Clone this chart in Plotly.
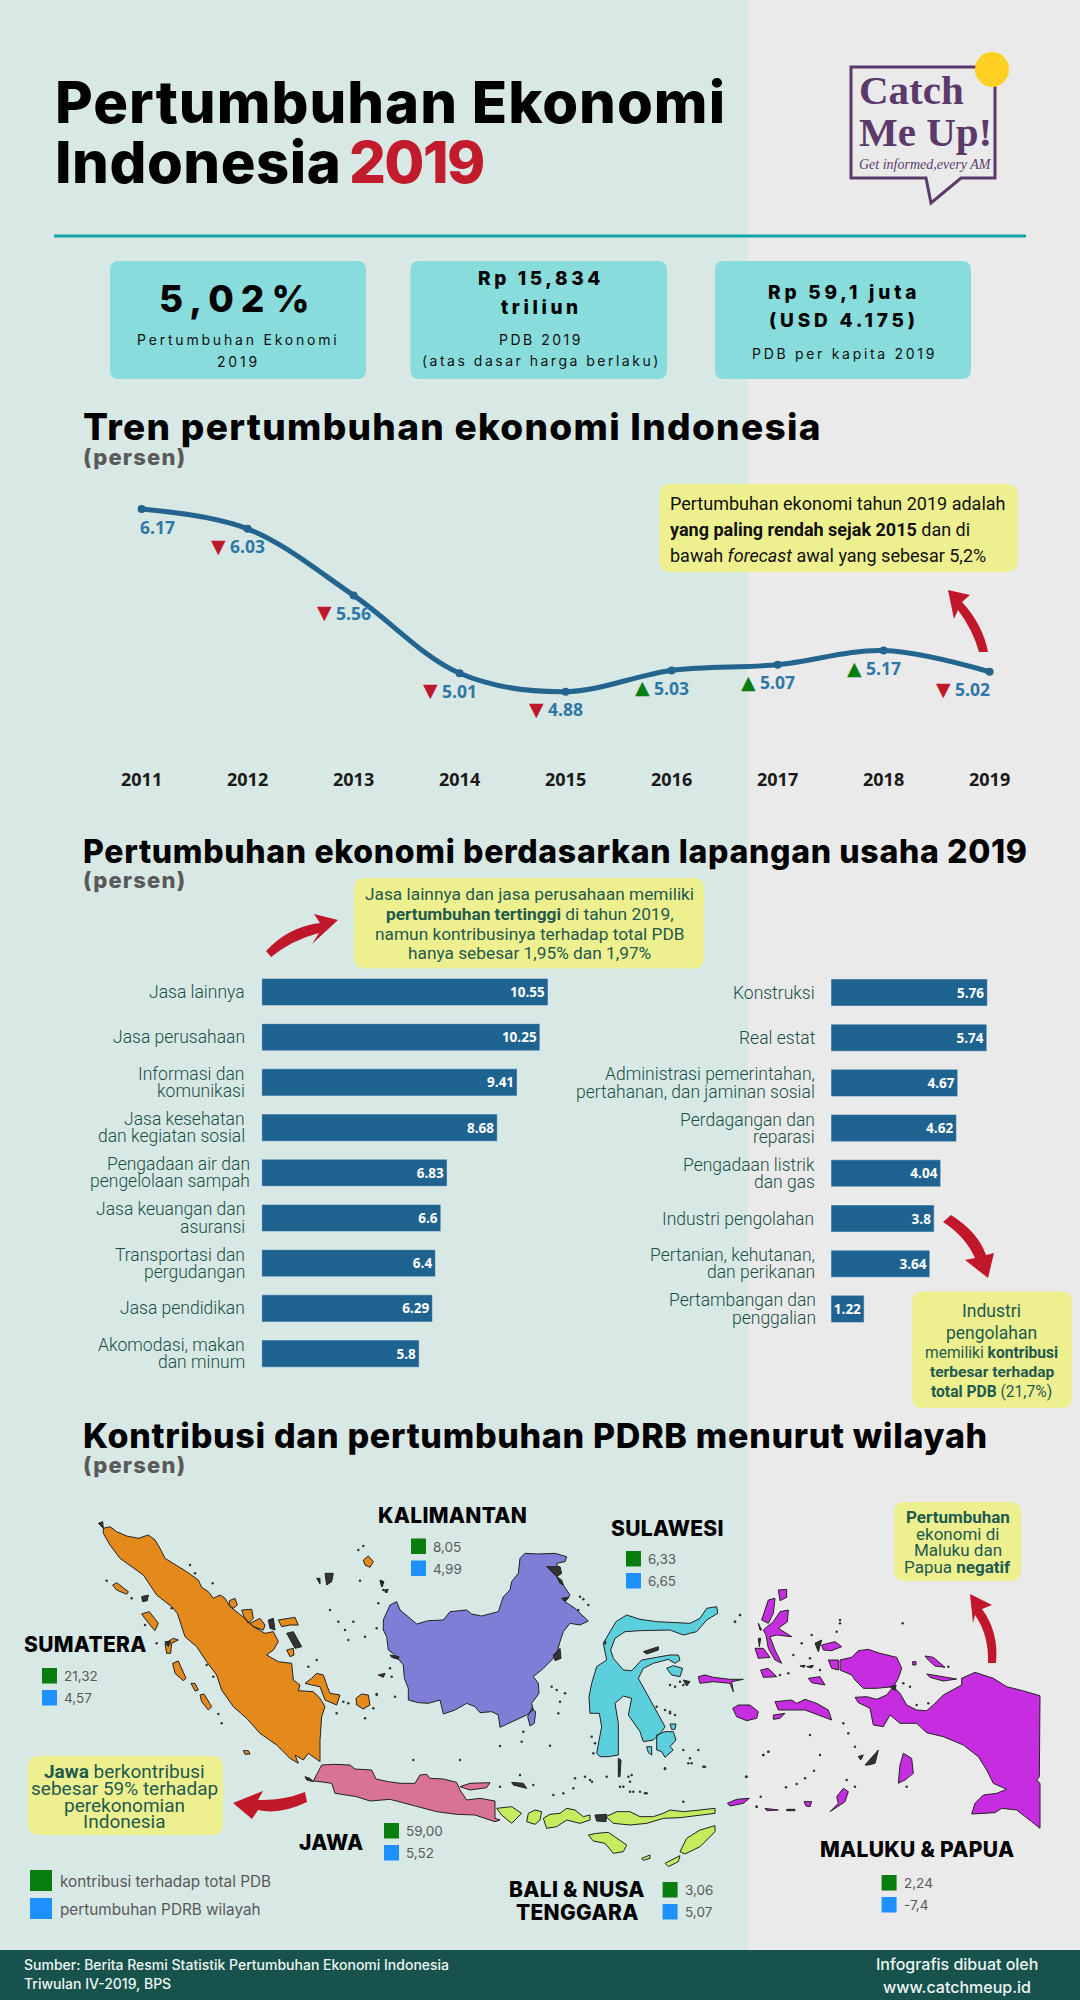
import plotly.graph_objects as go

# ---------- DATA ----------
years = [2011, 2012, 2013, 2014, 2015, 2016, 2017, 2018, 2019]
growth = [6.17, 6.03, 5.56, 5.01, 4.88, 5.03, 5.07, 5.17, 5.02]
growth_dir = [None, "down", "down", "down", "down", "up", "up", "up", "down"]

left_cats = ["Jasa lainnya", "Jasa perusahaan", "Informasi dan\nkomunikasi", "Jasa kesehatan\ndan kegiatan sosial",
             "Pengadaan air dan\npengelolaan sampah", "Jasa keuangan dan\nasuransi", "Transportasi dan\npergudangan",
             "Jasa pendidikan", "Akomodasi, makan\ndan minum"]
left_vals = [10.55, 10.25, 9.41, 8.68, 6.83, 6.6, 6.4, 6.29, 5.8]
right_cats = ["Konstruksi", "Real estat", "Administrasi pemerintahan,\npertahanan, dan jaminan sosial",
              "Perdagangan dan\nreparasi", "Pengadaan listrik\ndan gas", "Industri pengolahan",
              "Pertanian, kehutanan,\ndan perikanan", "Pertambangan dan\npenggalian"]
right_vals = [5.76, 5.74, 4.67, 4.62, 4.04, 3.8, 3.64, 1.22]

region_contrib = ["21,32", "8,05", "6,33", "59,00", "3,06", "2,24"]
region_growth = ["4,57", "4,99", "6,65", "5,52", "5,07", "-7,4"]

# Map outlines (each list in its own traced frame)
SUMATRA = [[(40,55),(60,50),(80,65),(110,78),(145,85),(175,75),(195,90),(210,115),(225,145),(250,160),(290,185),(325,210),(335,232),(355,245),(370,265),(390,255),(405,265),(420,290),(445,310),(465,325),(490,350),(525,370),(550,365),(565,395),(550,420),(530,435),(565,455),(605,460),(610,510),(630,525),(625,542),(670,545),(690,565),(705,590),(695,620),(690,690),(690,755),(675,745),(655,730),(640,750),(615,735),(625,760),(600,745),(560,705),(510,670),(470,625),(430,590),(395,540),(380,495),(350,455),(320,410),(285,380),(262,310),(245,290),(200,255),(160,195),(125,170),(90,145),(60,105),(40,70)],
 [(645,520),(665,505),(680,490),(700,495),(712,530),(720,550),(750,555),(740,585),(705,570),(690,530),(665,525)],
 [(798,565),(815,552),(835,555),(840,585),(820,597),(800,585)],
 [(820,150),(835,138),(850,155),(840,172),(825,165)],
 [(68,225),(80,218),(115,245),(110,253),(80,240)],
 [(155,312),(178,305),(205,340),(195,362),(180,345)],
 [(225,400),(250,385),(265,390),(245,400),(242,430),(230,430)],
 [(248,460),(265,453),(288,505),(280,512),(255,490)],
 [(303,520),(315,520),(325,540),(315,543)],
 [(330,555),(342,552),(365,590),(355,600),(335,575)],
 [(460,722),(475,722),(480,732),(465,733)],
 [(418,272),(435,265),(442,285),(430,295),(418,285)],
 [(455,300),(485,298),(490,325),(475,340),(462,320)],
 [(480,340),(510,325),(525,345),(520,360),(490,350)],
 [(565,330),(590,325),(615,322),(625,345),(600,345),(575,350)],
 [(590,420),(610,415),(612,435),(600,440)]]
SUMATRA_DARK = [[(535,330),(550,325),(555,360),(540,355)],[(590,370),(610,365),(635,410),(615,415)],[(155,260),(175,255),(172,272),(158,275)],[(225,395),(242,395),(235,410)],[(680,205),(690,205),(690,222)],[(705,190),(730,190),(725,215),(710,225)],[(870,210),(882,215),(875,230)],[(25,40),(38,35),(40,55)]]
SUMATRA_SPECKS = [(50,212),(125,265),(245,295),(300,165),(315,190),(368,220),(820,108),(805,120),(810,212),(790,335),(765,360),(775,390),(825,380),(655,470),(680,450),(200,400),(165,345),(350,465),(370,500),(385,612),(395,640),(760,575),(775,580),(860,555),(850,595),(825,625),(740,610),(880,240),(890,245),(865,280),(720,300),(745,335)]

KALIMANTAN = [[(25,240),(45,195),(65,185),(75,210),(105,235),(125,252),(160,242),(205,240),(225,215),(275,210),(290,222),(320,228),(370,215),(385,170),(405,150),(410,125),(430,100),(435,55),(450,40),(490,42),(540,40),(575,50),(570,65),(545,70),(550,90),(545,110),(565,135),(585,165),(570,185),(600,205),(640,243),(615,255),(585,250),(565,275),(555,305),(545,340),(530,360),(505,385),(475,410),(490,430),(492,460),(470,490),(475,510),(455,525),(375,562),(370,525),(350,515),(315,518),(300,500),(275,490),(240,510),(205,522),(195,480),(160,490),(130,488),(100,480),(100,445),(88,415),(85,375),(60,345),(40,330),(35,290),(25,270)],
 [(458,530),(470,505),(482,515),(478,550),(465,558)]]
KALIMANTAN_DARK = [[(515,80),(555,80),(560,100),(545,110)],[(545,110),(560,120),(565,135),(555,130)],[(560,175),(582,172),(570,185)],[(535,345),(555,325),(558,355),(540,362)],[(10,405),(30,400),(25,412)],[(15,125),(25,125),(22,140)],[(28,150),(40,148),(32,158)],[(45,345),(72,350),(70,358),(50,352)]]
KALIMANTAN_SPECKS = [(615,170),(625,178),(640,195),(610,210),(530,440),(545,450),(570,460),(555,485),(445,575),(440,605),(375,618),(525,617),(5,265),(45,385),(50,410),(5,462),(60,470),(690,305),(550,520)]

JAVA = [[(40,78),(65,30),(105,28),(150,30),(165,42),(215,45),(228,72),(265,80),(300,85),(345,85),(360,60),(380,58),(390,70),(430,72),(470,82),(480,105),(500,135),(540,130),(585,138),(585,190),(600,195),(585,200),(525,180),(470,178),(410,170),(330,150),(270,133),(210,138),(170,125),(105,115),(95,85),(60,80)],
 [(480,95),(510,85),(570,83),(560,98),(510,105)]]
NUSA_TENGGARA = [[(590,160),(635,155),(665,175),(645,195),(635,205),(605,180)],
 [(685,175),(705,165),(725,170),(720,195),(705,208),(680,200)],
 [(730,190),(750,178),(780,175),(800,160),(825,165),(850,185),(870,180),(870,195),(840,205),(800,195),(770,215),(740,220)],
 [(918,185),(950,170),(990,170),(1020,185),(1060,185),(1090,175),(1110,165),(1150,170),(1200,165),(1245,160),(1245,175),(1200,180),(1140,188),(1090,190),(1040,205),(990,210),(940,205)],
 [(865,240),(890,235),(925,232),(950,250),(980,270),(970,290),(940,295),(915,265),(880,258)],
 [(1140,290),(1160,250),(1200,225),(1245,212),(1245,230),(1200,275),(1155,297)],
 [(1095,325),(1140,302),(1135,320),(1105,335)],
 [(1025,310),(1050,300),(1050,310),(1030,316)]]
JAVA_DARK = [[(885,180),(920,178),(918,200),(890,198)],[(635,82),(670,85),(680,100),(640,90)],[(15,65),(30,70),(40,80),(20,75)]]
JAVA_SPECKS = [(340,15),(480,15),(600,95),(660,60),(700,90),(760,120),(790,115),(820,100),(825,70),(870,75),(855,65),(985,65),(960,95),(1000,110),(1035,115),(1095,42),(1165,25),(1215,35)]

SULAWESI = [[(50,180),(40,130),(60,95),(78,65),(110,45),(150,58),(200,65),(250,68),(300,70),(330,55),(350,25),(380,20),(383,40),(350,60),(320,95),(280,105),(240,90),(150,92),(105,95),(75,115),(62,150),(70,175),(100,210),(125,212),(155,180),(200,172),(240,165),(265,165),(270,180),(255,190),(235,178),(190,190),(160,205),(145,235),(170,280),(195,325),(225,380),(215,395),(190,420),(160,425),(150,395),(115,345),(125,295),(100,288),(75,310),(85,370),(85,465),(55,470),(30,470),(20,460),(35,380),(28,340),(0,340),(-3,290),(5,250),(20,200)],
 [(200,405),(225,395),(250,395),(258,420),(240,440),(250,450),(225,472),(215,455),(200,450)],
 [(230,205),(250,197),(278,205),(270,230),(245,225)],
 [(240,372),(258,372),(255,388),(245,388)],
 [(170,440),(185,440),(185,465),(175,458)]]
SULAWESI_DARK = [[(85,475),(93,480),(90,530),(85,530)],[(160,155),(205,140),(205,150),(170,162)],[(280,240),(300,245),(290,258)]]
SULAWESI_SPECKS = [(450,45),(435,65),(280,255),(270,245),(255,260),(240,255),(240,335),(255,345),(225,330),(280,450),(300,475),(305,490),(325,450),(340,500),(225,505),(125,525),(120,545),(100,560),(120,575),(150,575),(170,580),(280,605),(520,465),(535,455),(500,620),(470,530),(6,545),(50,530),(5,410),(15,430),(10,460),(45,130),(200,320),(240,340)]

MALUKU_W = [[(325,230),(345,225),(370,232),(420,238),(460,238),(425,245),(430,275),(420,250),(370,245),(330,250)],
 [(428,325),(445,315),(480,315),(505,335),(500,355),(470,362),(440,350)],
 [(412,610),(440,598),(478,595),(460,610),(420,618)]]
MALUKU_PAPUA = [[(330,240),(365,232),(385,212),(415,208),(450,220),(500,232),(515,265),(505,295),(490,320),(440,325),(400,325),(375,300),(365,285),(330,270)],
 [(490,320),(510,340),(530,375),(560,390),(590,392),(610,375),(640,345),(695,315),(695,295),(735,277),(790,295),(830,320),(870,330),(930,347),(928,590),(920,600),(930,610),(930,745),(905,725),(860,690),(815,685),(795,698),(725,702),(735,670),(760,645),(800,640),(830,628),(790,610),(770,570),(745,530),(700,495),(640,470),(590,458),(560,430),(510,430),(480,405),(460,440),(430,435),(420,385),(385,368),(375,352),(410,350),(440,358),(470,345)],
 [(590,282),(640,290),(680,297),(640,303),(600,292)],
 [(585,228),(610,232),(645,262),(615,258),(595,240)],
 [(275,195),(315,185),(335,200),(305,212),(280,210)],
 [(295,240),(325,240),(325,270),(305,265)],
 [(235,295),(270,290),(285,315),(245,308)],
 [(135,365),(185,360),(200,370),(225,358),(260,370),(295,390),(305,420),(265,405),(225,390),(190,390),(145,390)],
 [(130,405),(165,400),(150,415),(130,418)],
 [(92,270),(115,265),(140,290),(100,292)],
 [(145,30),(170,28),(170,52),(150,62)],
 [(95,120),(115,60),(135,55),(130,100),(115,130)],
 [(100,150),(130,125),(150,95),(175,90),(172,125),(145,145),(185,170),(140,165),(120,170),(135,210),(155,250),(135,240),(115,205),(108,165)],
 [(75,205),(100,205),(120,232),(85,235)],
 [(320,650),(340,625),(355,635),(345,665),(300,695),(325,670)],
 [(510,555),(520,520),(545,535),(550,580),(525,600),(505,610)],
 [(222,665),(245,665),(240,680),(228,678)],
 [(105,685),(145,690),(110,692)],
 [(548,245),(558,245),(558,255),(548,255)]]
MALUKU_DARK = [[(405,555),(445,510),(435,550),(415,555)],[(255,190),(275,180),(265,215)],[(480,320),(498,315),(495,332)],[(385,530),(400,525),(392,540)],[(170,688),(195,688),(195,692),(170,692)],[(210,258),(225,256),(222,262)],[(230,260),(250,256),(245,264)],[(85,130),(95,150),(90,150)],[(85,175),(92,175),(88,200)]]
MALUKU_SPECKS = [(30,105),(15,125),(330,120),(518,130),(320,155),(245,165),(215,190),(240,235),(655,260),(270,270),(175,280),(340,430),(355,460),(375,500),(390,530),(270,525),(115,515),(100,525),(252,572),(225,595),(200,612),(48,590),(168,622),(92,650),(80,680),(240,465),(595,370),(560,375),(540,320),(520,310),(330,130),(190,225),(150,285),(350,600),(375,620),(530,620)]

# ---------- STYLE ----------
BG_L, BG_R = "#d8e8e4", "#eaeaea"
TEAL, YELLOW, FOOT = "#88dcdc", "#eef08f", "#17534c"
RED, GREEN, BLUE = "#c0172b", "#0a7d0f", "#1e90ff"
LINE, NOTE, GREY = "#23658f", "#1e5a50", "#58595b"
PURPLE = "#5b3a6b"
HEAD = "Inter"; BODY = "Roboto"

W, H = 1080, 2000
def frame(x0, y0):
    return lambda pts: [(x0 + x / 3, y0 + y / 3) for x, y in pts]
fS, fK, fJ, fC, fM = frame(90, 1510), frame(375, 1540), frame(300, 1755), frame(590, 1600), frame(730, 1580)
def xd(a, b): return [a / W, b / W]
def yd(top, bot): return [1 - bot / H, 1 - top / H]

fig = go.Figure()
shapes, ann = [], []

def rrect(x0, y0, x1, y1, r, color):
    p = (f"M{x0+r},{y0} L{x1-r},{y0} Q{x1},{y0} {x1},{y0+r} L{x1},{y1-r} Q{x1},{y1} {x1-r},{y1} "
         f"L{x0+r},{y1} Q{x0},{y1} {x0},{y1-r} L{x0},{y0+r} Q{x0},{y0} {x0+r},{y0} Z")
    shapes.append(dict(type="path", path=p, xref="x", yref="y", fillcolor=color, line_width=0, layer="below"))
def rect(x0, y0, x1, y1, color):
    shapes.append(dict(type="rect", x0=x0, y0=y0, x1=x1, y1=y1, xref="x", yref="y", fillcolor=color, line_width=0, layer="below"))
def arrow(p):
    shapes.append(dict(type="path", path=p, xref="x", yref="y", fillcolor=RED, line_width=0, layer="above"))
def text(x, y, s, size, color="#000", anchor="center", family=BODY, weight=400, spacing=None):
    if spacing:
        s = f'<span style="letter-spacing:{spacing}px">{s}</span>'
    ann.append(dict(x=x, y=y, xref="x", yref="y", text=s, showarrow=False, xanchor=anchor, yanchor="middle",
                    font=dict(family=family, size=size, color=color, weight=weight)))

# backgrounds
rect(0, 0, 748, 1950, BG_L)
rect(748, 0, 1080, 1950, BG_R)
rect(0, 1950, 1080, 2000, FOOT)
rect(54, 234.5, 1026, 237.5, "#12a5a5")
for b in [(110, 261, 366, 379), (410.5, 261, 667, 379), (715, 261, 971, 379)]:
    rrect(*b, 9, TEAL)
for b in [(659.5, 484, 1018, 572), (354, 878, 704, 968.5), (912, 1291.5, 1072, 1408), (28, 1756, 223, 1835), (894, 1502, 1021, 1581)]:
    rrect(*b, 11, YELLOW)

# title
text(52.5, 102, "Pertumbuhan Ekonomi", 58, "#000", "left", HEAD, 800, 1.0)
ann.append(dict(x=52.5, y=162, xref="x", yref="y", showarrow=False, xanchor="left", yanchor="middle",
                text='<span style="letter-spacing:0.5px">Indonesia</span><span style="letter-spacing:-5px"> </span>'
                     '<span style="letter-spacing:-1.6px;fill:#c11b2c">2019</span>',
                font=dict(family=HEAD, size=58, color="#000", weight=800)))

# logo
shapes.append(dict(type="path", xref="x", yref="y", layer="below", fillcolor="rgba(0,0,0,0)",
    line=dict(color=PURPLE, width=3),
    path="M851,67 L995,67 L995,178 L961,178 L931,203 L926,178 L851,178 Z"))
shapes.append(dict(type="circle", xref="x", yref="y", x0=975, y0=52, x1=1009, y1=87, fillcolor="#fdd023", line_width=0, layer="above"))
text(857, 90, "Catch", 41, PURPLE, "left", "Liberation Serif", 700)
text(857, 132, "Me Up!", 41, PURPLE, "left", "Liberation Serif", 700)
text(857, 164, "<i>Get informed,every AM</i>", 14, PURPLE, "left", "Liberation Serif")

# stat boxes
text(238, 298, "5,02%", 37, "#000", "center", HEAD, 800, 7)
text(238, 339, "Pertumbuhan Ekonomi", 14, "#111", "center", "Inter", 400, 2.8)
text(238, 361, "2019", 14, "#111", "center", "Inter", 400, 2.8)
text(541, 278, "Rp 15,834", 19, "#000", "center", HEAD, 800, 3.6)
text(541, 307, "triliun", 19, "#000", "center", HEAD, 800, 3.6)
text(541, 339, "PDB 2019", 14, "#111", "center", "Inter", 400, 2.5)
text(541, 360, "(atas dasar harga berlaku)", 14, "#111", "center", "Inter", 400, 2.5)
text(844, 292, "Rp 59,1 juta", 19, "#000", "center", HEAD, 800, 3.8)
text(844, 320, "(USD 4.175)", 19, "#000", "center", HEAD, 800, 3.8)
text(844, 353, "PDB per kapita 2019", 14, "#111", "center", "Inter", 400, 2.7)

# headings
text(80.5, 426, "Tren pertumbuhan ekonomi Indonesia", 37, "#000", "left", HEAD, 800, 1.3)
text(80.5, 457, "(persen)", 22, GREY, "left", HEAD, 800, 1.2)
text(80.5, 851, "Pertumbuhan ekonomi berdasarkan lapangan usaha 2019", 32, "#000", "left", HEAD, 800, 0.68)
text(80.5, 880, "(persen)", 22, GREY, "left", HEAD, 800, 1.2)
text(80.5, 1435, "Kontribusi dan pertumbuhan PDRB menurut wilayah", 34, "#000", "left", HEAD, 800, 0.7)
text(80.5, 1465, "(persen)", 22, GREY, "left", HEAD, 800, 1.2)

# notes
for y, s in zip((503, 529, 555), ("Pertumbuhan ekonomi tahun 2019 adalah",
        "<b>yang paling rendah sejak 2015</b> dan di", "bawah <i>forecast</i> awal yang sebesar 5,2%")):
    text(668, y, s, 18, "#111", "left")
for y, s in zip((893.5, 913.8, 933.7, 953.2), ("Jasa lainnya dan jasa perusahaan memiliki",
        "<b>pertumbuhan tertinggi</b> di tahun 2019,", "namun kontribusinya terhadap total PDB", "hanya sebesar 1,95% dan 1,97%")):
    text(529.7, y, s, 17.3, NOTE)
for y, s, sz in zip((1311.4, 1332.8, 1352.7, 1372.2, 1392.1), ("Industri", "pengolahan", "memiliki <b>kontribusi</b>",
        "<b>terbesar terhadap</b>", "<b>total PDB</b> (21,7%)"), (17.5, 17.5, 15.6, 15.5, 15.6)):
    text(991.7, y, s, sz, NOTE)
for y, s in zip((1771.6, 1788.9, 1805.4, 1821.6), ("<b>Jawa</b> berkontribusi", "sebesar 59% terhadap", "perekonomian", "Indonesia")):
    text(124.3, y, s, 19, NOTE)
for y, s in zip((1517.2, 1534, 1550.2, 1566.7), ("<b>Pertumbuhan</b>", "ekonomi di", "Maluku dan", "Papua <b>negatif</b>")):
    text(957.7, y, s, 17, NOTE)

# arrows
arrow("M948,590 L970,595 L962,602 Q983,625 988,652 L979,652 Q973,630 958,610 L954,619 Z")
arrow("M338,920 L314,914 L320,923 Q288,927 266,951 L271,957 Q292,940 319,933 L312,944 Z")
arrow("M988,1278 L965,1260 L975,1258 Q965,1236 943,1222 L951,1215 Q978,1232 986,1255 L994,1253 Z")
arrow("M233,1803 L263,1791 L258,1800 Q282,1801 305,1792 L307,1802 Q280,1815 258,1810 L252,1819 Z")
arrow("M970,1594 L992,1605 L982,1609 Q999,1632 996,1663 L988,1663 Q989,1635 975,1615 L973,1623 Z")

# ---------- MAP (canvas axes) ----------
def poly(groups, color):
    xs, ys = [], []
    for g in groups:
        g = list(g) + [g[0]]
        xs += [p[0] for p in g] + [None]
        ys += [p[1] for p in g] + [None]
    fig.add_trace(go.Scatter(x=xs, y=ys, mode="lines", fill="toself", fillcolor=color,
                             line=dict(color="#222", width=1), hoverinfo="skip", showlegend=False))
poly([fS(g) for g in SUMATRA], "#e4891c")
poly([fK(g) for g in KALIMANTAN], "#7f7ed6")
poly([fJ(g) for g in JAVA], "#d97396")
poly([fJ(g) for g in NUSA_TENGGARA], "#c4ec5e")
poly([fC(g) for g in SULAWESI], "#5ccfdc")
poly([fC(g) for g in MALUKU_W] + [fM(g) for g in MALUKU_PAPUA], "#c72de0")
poly([fS(g) for g in SUMATRA_DARK] + [fK(g) for g in KALIMANTAN_DARK] + [fJ(g) for g in JAVA_DARK]
     + [fC(g) for g in SULAWESI_DARK] + [fM(g) for g in MALUKU_DARK], "#333333")
sp = fS(SUMATRA_SPECKS) + fK(KALIMANTAN_SPECKS) + fJ(JAVA_SPECKS) + fC(SULAWESI_SPECKS) + fM(MALUKU_SPECKS)
fig.add_trace(go.Scatter(x=[p[0] for p in sp], y=[p[1] for p in sp], mode="markers",
                         marker=dict(color="#333", size=2.5), hoverinfo="skip", showlegend=False))

# region labels and mini legends
region_names = ["SUMATERA", "KALIMANTAN", "SULAWESI", "JAWA", "BALI & NUSA", "MALUKU & PAPUA"]
name_pos = [(85.7, 1644.6), (452.7, 1515), (667.8, 1528), (331.4, 1842), (577, 1889), (916.5, 1849.5)]
key_pos = [(42, 1668, 1690), (411, 1538.5, 1560.5), (626, 1551, 1573), (384, 1823, 1845), (662.6, 1882, 1904), (881.6, 1875, 1897)]
for nm, np_, kp, con, gro in zip(region_names, name_pos, key_pos, region_contrib, region_growth):
    text(np_[0], np_[1], nm, 21, "#000", "center", HEAD, 800, 0.3)
    rect(kp[0], kp[1], kp[0] + 15, kp[1] + 15.5, GREEN)
    rect(kp[0], kp[2], kp[0] + 15, kp[2] + 15.5, BLUE)
    text(kp[0] + 20, kp[1] + 8, con, 13.5, GREY, "left", "Inter")
    text(kp[0] + 20, kp[2] + 8, gro, 13.5, GREY, "left", "Inter")
text(577, 1912, "TENGGARA", 21, "#000", "center", HEAD, 800, 0.3)

rect(30, 1870, 52, 1891, GREEN)
rect(30, 1898, 52, 1919, BLUE)
text(58, 1881, "kontribusi terhadap total PDB", 15.3, GREY, "left", "Inter")
text(58, 1909, "pertumbuhan PDRB wilayah", 15.3, GREY, "left", "Inter")

# footer
text(22, 1964.5, "Sumber: Berita Resmi Statistik Pertumbuhan Ekonomi Indonesia", 14, "#eef5f3", "left", "Inter", 500)
text(22, 1983.5, "Triwulan IV-2019, BPS", 14, "#eef5f3", "left", "Inter", 500)
text(956.5, 1964, "Infografis dibuat oleh", 16, "#eef5f3", "center", "Inter", 500)
text(956.5, 1987, "www.catchmeup.id", 16, "#eef5f3", "center", "Inter", 500)

# ---------- LINE CHART ----------
PX_UNIT = 141.6
L_TOP, L_BOT = 500, 765
ly_hi = 6.17 + (509 - L_TOP) / PX_UNIT
ly_lo = 6.17 - (L_BOT - 509) / PX_UNIT
fig.add_trace(go.Scatter(x=years, y=growth, mode="lines+markers", xaxis="x2", yaxis="y2", cliponaxis=False,
                         line=dict(color=LINE, width=5, shape="spline", smoothing=1.0),
                         marker=dict(color=LINE, size=8), hoverinfo="skip", showlegend=False))
for yr, v, d in zip(years, growth, growth_dir):
    dx = 16 if yr == 2011 else (-17.6 if yr == 2019 else 0)
    ann.append(dict(x=yr, y=v, xref="x2", yref="y2", text=f"{v:.2f}", showarrow=False, xshift=dx, yshift=-17.5,
                    font=dict(family="Open Sans", size=17.5, color="#2f77a6", weight=700)))
    if d:
        ann.append(dict(x=yr, y=v, xref="x2", yref="y2", text="▼" if d == "down" else "▲", showarrow=False,
                        xshift=dx - 29, yshift=-17, font=dict(family="DejaVu Sans", size=19, color=RED if d == "down" else GREEN)))

# ---------- BARS ----------
BAR_STEP, BAR_UNIT = 45.2, 27.14
def bars(cats, vals, xa, ya, x0, x1, yoff, shifts):
    names = [c.replace("\n", " ") for c in cats]
    fig.add_trace(go.Bar(x=vals, y=names, orientation="h", xaxis=xa, yaxis=ya, width=0.6, marker=dict(color="#1f6391"),
                         text=[str(v) for v in vals], textposition="inside", insidetextanchor="end", textangle=0,
                         constraintext="none", cliponaxis=False,
                         textfont=dict(family="Open Sans", size=13.5, color="#fff", weight=700),
                         hoverinfo="skip", showlegend=False))
    for nm, c, sh in zip(names, cats, shifts):
        lines = c.split("\n")
        for i, ln in enumerate(lines):
            ann.append(dict(x=0, y=nm, xref=xa, yref=ya, text=ln, showarrow=False, xanchor="right", xshift=sh,
                            yshift=(len(lines) - 1) * 8.6 - i * 17.2,
                            font=dict(family=BODY, size=17.5, color="#174f46", weight=300)))
    return dict(domain=xd(x0, x1), range=[0, (x1 - x0) / BAR_UNIT], visible=False), \
           dict(domain=yd(960 + yoff, 1380 + yoff), range=[(1380 - 992) / BAR_STEP, (960 - 992) / BAR_STEP],
                type="category", categoryorder="array", categoryarray=names, visible=False)

xa3, ya3 = bars(left_cats, left_vals, "x3", "y3", 261.7, 700, 0, [-15, -15, -15, -15, -10, -15, -15, -15, -15])
xa4, ya4 = bars(right_cats, right_vals, "x4", "y4", 831, 1070, 0.5, [-14, -14, -14, -14, -14, -15.5, -14, -13])

fig.update_layout(
    width=W, height=H, autosize=False, margin=dict(l=0, r=0, t=0, b=0, pad=0, autoexpand=False),
    paper_bgcolor=BG_L, plot_bgcolor="rgba(0,0,0,0)", hovermode=False, showlegend=False, bargap=0.4,
    xaxis=dict(domain=[0, 1], range=[0, W], visible=False, fixedrange=True),
    yaxis=dict(domain=[0, 1], range=[H, 0], visible=False, fixedrange=True),
    xaxis2=dict(domain=xd(141.6, 989.6), range=[2011, 2019], anchor="y2", tickmode="array", tickvals=years,
                showgrid=False, zeroline=False, showline=False, ticks="", ticklabelstandoff=2,
                tickfont=dict(family="Open Sans", size=18, color="#1a1a1a", weight=700)),
    yaxis2=dict(domain=yd(L_TOP, L_BOT), range=[ly_lo, ly_hi], anchor="x2", visible=False),
    xaxis3=dict(anchor="y3", **xa3), yaxis3=dict(anchor="x3", **ya3),
    xaxis4=dict(anchor="y4", **xa4), yaxis4=dict(anchor="x4", **ya4),
    shapes=shapes, annotations=ann,
)
fig.write_html("out.html", config=dict(displayModeBar=False),
               post_script="document.documentElement.style.margin='0';document.body.style.margin='0';document.documentElement.style.overflow='hidden';")
